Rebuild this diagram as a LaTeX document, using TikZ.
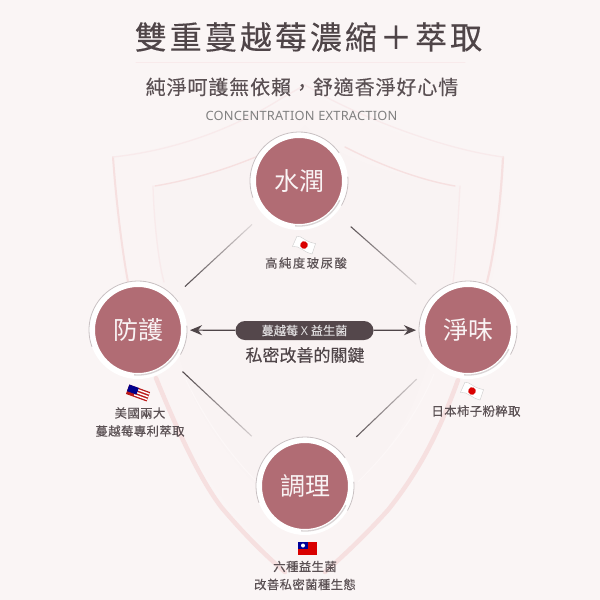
\documentclass[tikz,border=0pt]{standalone}
\usepackage{fontspec}
\usetikzlibrary{arrows.meta,fadings}
\setmainfont{Noto Sans CJK TC}
\newfontfamily\fTitle[LetterSpace=9.5,FakeBold=0.25]{Noto Sans CJK TC}
\newfontfamily\fSub[LetterSpace=4.5,FakeBold=0.12]{Noto Sans CJK TC}
\newfontfamily\fLab[LetterSpace=3,FakeBold=0.2]{Noto Sans CJK TC}
\newfontfamily\fWide[LetterSpace=12,FakeBold=0.2]{Noto Sans CJK TC}
\newfontfamily\fKey[FakeBold=0.2]{Noto Sans CJK TC}
\newfontfamily\fLat[LetterSpace=2]{Noto Sans}
\definecolor{bgc}{HTML}{FAF5F5}
\definecolor{shieldc}{HTML}{F9F3F3}
\definecolor{shieldb}{HTML}{FAF4F4}
\definecolor{bandc}{HTML}{F6E0E0}
\definecolor{bandl}{HTML}{F8EAEB}
\definecolor{rosec}{HTML}{B16C74}
\definecolor{inkc}{HTML}{4F4548}
\definecolor{linec}{HTML}{3F3639}
\definecolor{labc}{HTML}{5A5053}
\definecolor{pillc}{HTML}{54474B}
\definecolor{arcc}{HTML}{C9C1C3}
\tikzfading[name=fadeend, left color=transparent!0, middle color=transparent!0, right color=transparent!100]
\tikzset{
  disc/.style={circle,minimum size=92pt,inner sep=0pt,fill=rosec,draw=white,line width=6pt,
    text=white!92!rosec,font=\fontsize{25}{28}\selectfont},
  lab/.style={text=labc,font=\fLab\fontsize{12.4}{18}\selectfont,align=center,inner sep=0pt},
  conn/.style={draw=linec,line width=1.1pt},
  fadeconn/.style={conn,path fading=fadeend},
  arr/.style={draw=inkc,line width=1.1pt,-{Stealth[length=12pt,width=10pt]},shorten >=3pt},
  band/.style={draw=bandc,line width=2.6pt,line cap=round},
  bandlight/.style={draw=bandl,line width=1.6pt,line cap=round},
  faintw/.style={draw=white!60!bandl,line width=1.2pt,line cap=round},
  jpflag/.style={fill=white,draw=black!20,line width=0.4pt}
}
\newcommand{\ringarcs}[1]{%
  \draw[arcc,line width=0.8pt] (#1.center) ++(35:49pt) arc[start angle=35,end angle=200,radius=49pt];
  \draw[arcc!70!white,line width=1.3pt] (#1.center) ++(-95:45pt) arc[start angle=-95,end angle=-25,radius=45pt];
  \draw[arcc,line width=0.8pt] (#1.center) ++(-30:49pt) arc[start angle=-30,end angle=5,radius=49pt];
}
\newcommand{\japan}[2]{%
  \begin{scope}[shift={(#1,#2)},rotate=-24]
    \draw[jpflag] (-10,-5) .. controls (-5,-8) and (-2,-3) .. (10,-6) -- (11,5) .. controls (4,7) and (-4,2) .. (-10,6) -- cycle;
    \fill[red!85!black] (0,0) circle[radius=3.8pt];
  \end{scope}%
}
\begin{document}
\begin{tikzpicture}[x=1pt,y=-1pt]
\useasboundingbox (0,0) rectangle (600,600);
\fill[bgc] (0,0) rectangle (600,600);
% shield
\fill[shieldb] (113,157) .. controls (190,145) and (260,120) .. (305,88) .. controls (350,120) and (420,145) .. (503,157)
  .. controls (505,260) and (480,350) .. (430,440) .. controls (400,500) and (350,550) .. (305,582)
  .. controls (260,550) and (200,480) .. (165,400) .. controls (130,330) and (115,250) .. cycle;
\fill[shieldc] (153,186) .. controls (200,178) and (270,165) .. (305,125) .. controls (340,165) and (410,178) .. (459,186)
  .. controls (460,260) and (440,340) .. (410,410) .. controls (380,470) and (340,500) .. (305,530)
  .. controls (270,500) and (225,460) .. (195,400) .. controls (170,340) and (155,260) .. cycle;
\draw[band,line width=2pt] (113,157) .. controls (116,200) and (122,250) .. (128,282);
\draw[band,line width=2.2pt] (503,157) .. controls (501,200) and (495,250) .. (487,282);
\draw[bandlight,line width=1.3pt] (113,157) .. controls (180,150) and (240,125) .. (282,98);
\draw[bandlight,line width=1.3pt] (503,157) .. controls (450,150) and (380,125) .. (328,98);
\draw[band,line width=1.4pt] (155,186) .. controls (190,180) and (225,170) .. (258,156);
\draw[band,line width=1.4pt] (455,186) .. controls (420,180) and (380,165) .. (345,147);
\draw[bandlight,line width=1.3pt] (153,186) .. controls (154,220) and (158,260) .. (164,282);
\draw[bandlight,line width=1.3pt] (460,186) .. controls (458,220) and (456,260) .. (453,282);
\draw[band,line width=4.5pt] (156,378) .. controls (175,425) and (200,480) .. (222,508) .. controls (245,535) and (265,555) .. (285,572);
\draw[band,line width=4.5pt] (458,380) .. controls (440,430) and (420,470) .. (388,510) .. controls (370,530) and (350,550) .. (325,572);
\draw[faintw] (186,380) .. controls (205,420) and (230,455) .. (257,482);
\draw[faintw] (434,374) .. controls (415,420) and (385,455) .. (358,482);
\draw[bandlight,line width=1.4pt] (282,98) -- (305,85) -- (328,98);
\draw[bandlight,line width=1pt] (136,62) -- (465,62);
% circles
\node[disc] (top) at (299,181) {水潤};
\node[disc] (left) at (138,330) {防護};
\node[disc] (right) at (468,330) {淨味};
\node[disc] (bottom) at (305,486) {調理};
\ringarcs{top}\ringarcs{left}\ringarcs{right}\ringarcs{bottom}
% connectors
\path[fadeconn,shorten <=15pt,shorten >=15pt] (left) -- (top);
\path[fadeconn,shorten <=20pt,shorten >=20pt] (top) -- (right);
\path[fadeconn,shorten <=12pt,shorten >=24pt] (left) -- (bottom);
\path[fadeconn,shorten <=22pt,shorten >=22pt] (bottom) -- (right);
% centre
\node[fill=pillc,rounded corners=9.5pt,minimum width=138pt,minimum height=19pt,inner sep=0pt,
  text=white!82!pillc,font=\fKey\fontsize{12.2}{14}\selectfont] (pill) at (304.5,330.5) {蔓越莓 {\fLat X} 益生菌};
\draw[arr] (pill) -- (left);
\draw[arr] (pill) -- (right);
\node[inner sep=0pt,text=inkc,font=\fKey\fontsize{17}{20}\selectfont] (key) at (305,355) {私密改善的關鍵};
% titles
\node[inner sep=0pt,text=inkc,font=\fTitle\fontsize{32}{36}\selectfont] (title) at (308.5,37) {雙重蔓越莓濃縮＋萃取};
\node[inner sep=0pt,text=labc,font=\fSub\fontsize{20}{24}\selectfont] (sub) at (302,87) {純淨呵護無依賴，舒適香淨好心情};
\node[inner sep=0pt,text=black!50,font=\fLat\fontsize{12.8}{15}\selectfont] (en) at (301.5,115.5) {CONCENTRATION EXTRACTION};
% labels
\node[lab,font=\fWide\fontsize{12.4}{18}\selectfont] (ltop) at (306,263) {高純度玻尿酸};
\node[lab] (lleft) at (140,422) {美國兩大\\蔓越莓專利萃取};
\node[lab] (lright) at (476,411) {日本柿子粉粹取};
\node[lab] (lbottom) at (305,575.5) {六種益生菌\\改善私密菌種生態};
% flags
\japan{304}{245}
\japan{472}{391}
\begin{scope}[shift={(138,393)},rotate=-20]
  \fill[red!70!black!90] (-11,-5) -- (11,-5) -- (11,5) -- (-11,5) -- cycle;
  \foreach \yy in {-3,0,3} \fill[white] (-3,\yy-0.7) rectangle (11,\yy+0.7);
  \fill[blue!55!black] (-11,-5) rectangle (-1,2);
\end{scope}
\fill[red!85!black] (298,542) rectangle (317,555);
\fill[blue!60!black] (298,542) rectangle (308,549);
\fill[white] (303,545.5) circle[radius=2pt];
\end{tikzpicture}
\end{document}
